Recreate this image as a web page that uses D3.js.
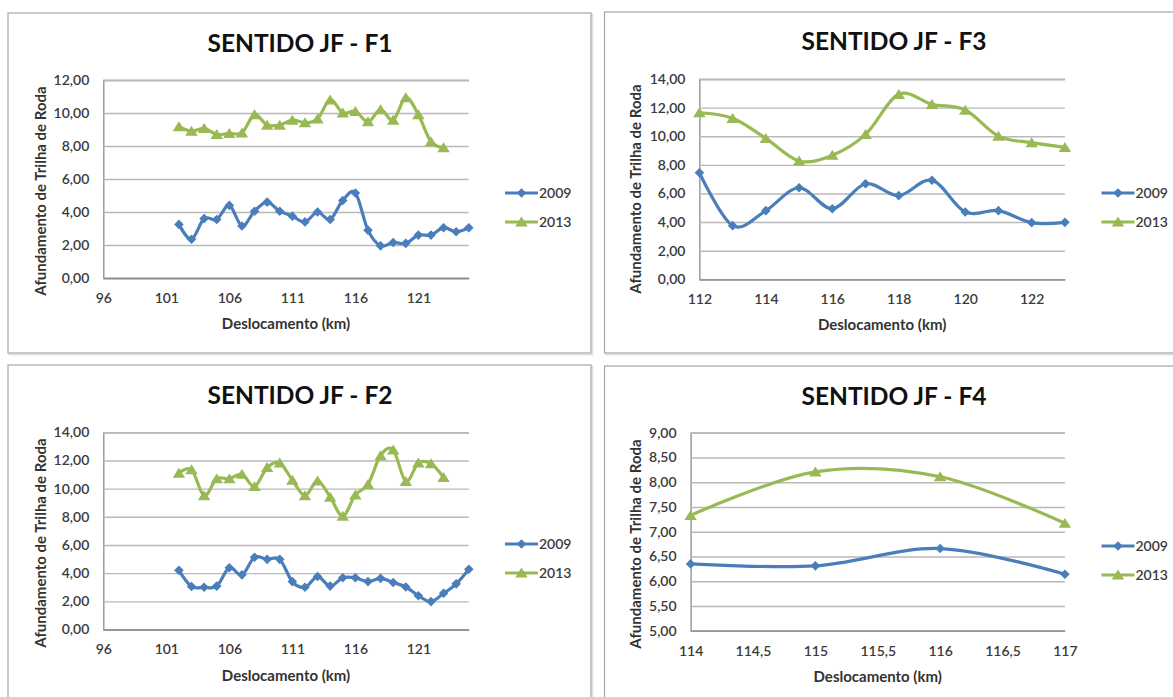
<!DOCTYPE html>
<html>
<head>
<meta charset="utf-8">
<script src="https://cdn.jsdelivr.net/npm/d3@7/dist/d3.min.js"></script>
<style>
  html, body { margin: 0; padding: 0; background: #fff; }
  svg { display: block; }
  text { font-family: Lato, "Open Sans", "Liberation Sans", sans-serif; }
</style>
</head>
<body>
<svg id="chart" width="1173" height="697"></svg>
<script>
// Rut depth (afundamento de trilha de roda) by km, surveys 2009 and 2013

const seriesNames = ["2009", "2013"];

// Segment F1
const kmF1_2009 = [102,103,104,105,106,107,108,109,110,111,112,113,114,115,116,117,118,119,120,121,122,123,124,125];
const valF1_2009 = [3.25,2.35,3.6,3.55,4.4,3.15,4.05,4.6,4.05,3.75,3.4,4.0,3.55,4.7,5.15,2.9,1.95,2.15,2.1,2.6,2.6,3.05,2.8,3.05];
const kmF1_2013 = [102,103,104,105,106,107,108,109,110,111,112,113,114,115,116,117,118,119,120,121,122,123];
const valF1_2013 = [9.17,8.9,9.07,8.7,8.77,8.8,9.9,9.27,9.27,9.57,9.42,9.64,10.8,10.0,10.1,9.47,10.2,9.57,10.93,9.9,8.26,7.9];
const xTicksF1 = [96,101,106,111,116,121];
const yTicksF1 = [0,2,4,6,8,10,12];

// Segment F3
const kmF3 = [112,113,114,115,116,117,118,119,120,121,122,123];
const valF3_2009 = [7.45,3.75,4.8,6.4,4.93,6.68,5.85,6.92,4.7,4.8,3.96,3.98];
const valF3_2013 = [11.64,11.25,9.85,8.27,8.67,10.13,12.93,12.23,11.83,10.01,9.55,9.22];
const xTicksF3 = [112,114,116,118,120,122];
const yTicksF3 = [0,2,4,6,8,10,12,14];

// Segment F2
const kmF2_2009 = [102,103,104,105,106,107,108,109,110,111,112,113,114,115,116,117,118,119,120,121,122,123,124,125];
const valF2_2009 = [4.2,3.05,3.0,3.08,4.38,3.88,5.13,4.98,4.98,3.4,3.0,3.76,3.08,3.67,3.67,3.4,3.63,3.34,3.02,2.4,1.98,2.57,3.24,4.28];
const kmF2_2013 = [102,103,104,105,106,107,108,109,110,111,112,113,114,115,116,117,118,119,120,121,122,123];
const valF2_2013 = [11.1,11.35,9.5,10.7,10.7,11.02,10.15,11.5,11.82,10.6,9.5,10.55,9.4,8.05,9.56,10.3,12.35,12.75,10.52,11.82,11.78,10.8];
const xTicksF2 = [96,101,106,111,116,121];
const yTicksF2 = [0,2,4,6,8,10,12,14];

// Segment F4
const kmF4 = [114,115,116,117];
const valF4_2009 = [6.35,6.31,6.66,6.14];
const valF4_2013 = [7.33,8.21,8.11,7.17];
const xTicksF4 = [114,114.5,115,115.5,116,116.5,117];
const yTicksF4 = [5,5.5,6,6.5,7,7.5,8,8.5,9];

const titles = ["SENTIDO JF - F1", "SENTIDO JF - F3", "SENTIDO JF - F2", "SENTIDO JF - F4"];
const yTitle = "Afundamento de Trilha de Roda";
const xTitle = "Deslocamento (km)";

const ptBR = d3.formatLocale({decimal: ",", thousands: ".", grouping: [3], currency: ["R$ ", ""]});
const fmtY = ptBR.format(".2f");
const fmtX = ptBR.format("~f");

const colors = {"2009": "#4a7ebb", "2013": "#98b954"};

const svg = d3.select("#chart");

const panels = [
  { frame: [8, 13, 583, 340], plot: {x0: 103.3, x1: 468.8, top: 80, bottom: 278},
    xDom: [96,125], yDom: [0,12], xTicks: xTicksF1, yTicks: yTicksF1,
    s2009: [kmF1_2009, valF1_2009], s2013: [kmF1_2013, valF1_2013],
    title: titles[0], titleX: 300, titleY: 52, legX: 505, legY: [193, 222], yTitleX: 45.5, yTitleY: 191 },
  { frame: [604.5, 12, 600, 341], plot: {x0: 699.4, x1: 1064.9, top: 79, bottom: 279.3},
    xDom: [112,123], yDom: [0,14], xTicks: xTicksF3, yTicks: yTicksF3,
    s2009: [kmF3, valF3_2009], s2013: [kmF3, valF3_2013],
    title: titles[1], titleX: 894, titleY: 50, legX: 1101.5, legY: [193, 222], yTitleX: 641, yTitleY: 189 },
  { frame: [8, 365, 583, 360], plot: {x0: 103.3, x1: 468.8, top: 432.3, bottom: 629.5},
    xDom: [96,125], yDom: [0,14], xTicks: xTicksF2, yTicks: yTicksF2,
    s2009: [kmF2_2009, valF2_2009], s2013: [kmF2_2013, valF2_2013],
    title: titles[2], titleX: 300, titleY: 404, legX: 505, legY: [544, 573], yTitleX: 45.5, yTitleY: 543 },
  { frame: [604.5, 366, 600, 360], plot: {x0: 690.6, x1: 1064.9, top: 432.7, bottom: 630.7},
    xDom: [114,117], yDom: [5,9], xTicks: xTicksF4, yTicks: yTicksF4,
    s2009: [kmF4, valF4_2009], s2013: [kmF4, valF4_2013],
    title: titles[3], titleX: 894, titleY: 405, legX: 1101.5, legY: [546, 575], yTitleX: 641, yTitleY: 544 }
];

function diamondPath(r) { return `M0,${-r}L${r},0L0,${r}L${-r},0Z`; }
function trianglePath(r) { return `M0,${-r}L${r*1.15},${r*0.85}L${-r*1.15},${r*0.85}Z`; }
const markerPath = {"2009": diamondPath(4.8), "2013": trianglePath(5.4)};

panels.forEach(p => {
  const g = svg.append("g");
  const [fx, fy, fw, fh] = p.frame;

  // chart frame
  g.append("rect")
    .attr("x", fx + 1.5).attr("y", fy + 1.5).attr("width", fw).attr("height", fh)
    .attr("fill", "none").attr("stroke", "#e4e4e4").attr("stroke-width", 2);
  g.append("rect")
    .attr("x", fx).attr("y", fy).attr("width", fw).attr("height", fh)
    .attr("fill", "#fff").attr("stroke", "#a6a6a6").attr("stroke-width", 1.2);

  const x = d3.scaleLinear().domain(p.xDom).range([p.plot.x0, p.plot.x1]);
  const y = d3.scaleLinear().domain(p.yDom).range([p.plot.bottom, p.plot.top]);
  const w = p.plot.x1 - p.plot.x0;

  // horizontal gridlines with value labels
  const yAxis = g.append("g")
    .attr("transform", `translate(${p.plot.x0},0)`)
    .call(d3.axisLeft(y).tickValues(p.yTicks).tickSize(-w).tickPadding(14).tickFormat(fmtY));
  yAxis.select(".domain").attr("stroke", "#8c8c8c").attr("stroke-width", 1.3);
  yAxis.selectAll(".tick line").attr("stroke", "#b9b9b9").attr("stroke-width", 1.4);
  yAxis.selectAll(".tick text").attr("fill", "#3a3a3a").attr("font-size", 14).attr("font-weight", 600);

  const xAxis = g.append("g")
    .attr("transform", `translate(0,${p.plot.bottom})`)
    .call(d3.axisBottom(x).tickValues(p.xTicks).tickSize(0).tickPadding(15).tickFormat(fmtX));
  xAxis.select(".domain").attr("stroke", "#8c8c8c").attr("stroke-width", 1.3);
  xAxis.selectAll(".tick text").attr("fill", "#3a3a3a").attr("font-size", 14).attr("font-weight", 600);

  // titles
  g.append("text").attr("x", p.titleX).attr("y", p.titleY)
    .attr("text-anchor", "middle").attr("font-size", 24.5).attr("font-weight", 700)
    .attr("fill", "#111").text(p.title);
  g.append("text").attr("x", (p.plot.x0 + p.plot.x1) / 2).attr("y", p.plot.bottom + 51)
    .attr("text-anchor", "middle").attr("font-size", 15).attr("font-weight", 700)
    .attr("fill", "#333").text(xTitle);
  g.append("text")
    .attr("transform", `translate(${p.yTitleX},${p.yTitleY}) rotate(-90)`)
    .attr("text-anchor", "middle").attr("font-size", 15).attr("font-weight", 700)
    .attr("fill", "#333").text(yTitle);

  // series lines and markers
  const line = d3.line().curve(d3.curveCatmullRom.alpha(0))
    .x(d => x(d[0])).y(d => y(d[1]));
  seriesNames.forEach(name => {
    const [ks, vs] = p["s" + name];
    const pts = ks.map((k, i) => [k, vs[i]]);
    g.append("path").datum(pts)
      .attr("d", line).attr("fill", "none")
      .attr("stroke", colors[name]).attr("stroke-width", 3.2)
      .attr("stroke-linejoin", "round").attr("stroke-linecap", "round");
    g.append("g").selectAll("path").data(pts).join("path")
      .attr("transform", d => `translate(${x(d[0])},${y(d[1])})`)
      .attr("d", markerPath[name]).attr("fill", colors[name]);
  });

  // legend
  seriesNames.forEach((name, i) => {
    const ly = p.legY[i];
    g.append("line").attr("x1", p.legX).attr("x2", p.legX + 33)
      .attr("y1", ly).attr("y2", ly)
      .attr("stroke", colors[name]).attr("stroke-width", 3.2);
    g.append("path").attr("transform", `translate(${p.legX + 16.5},${ly})`)
      .attr("d", markerPath[name]).attr("fill", colors[name]);
    g.append("text").attr("x", p.legX + 34).attr("y", ly + 5)
      .attr("font-size", 14).attr("font-weight", 600).attr("fill", "#3a3a3a").text(name);
  });
});
</script>
</body>
</html>
